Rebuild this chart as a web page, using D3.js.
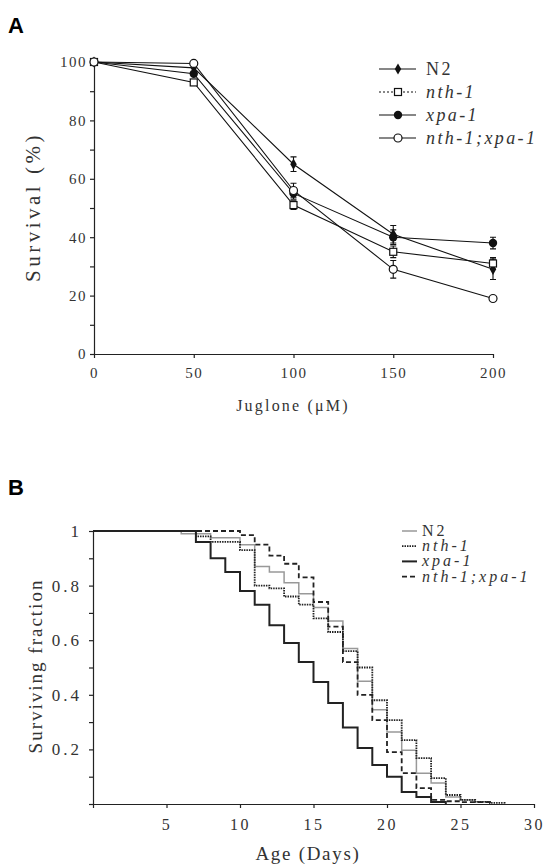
<!DOCTYPE html>
<html>
<head>
<meta charset="utf-8">
<script src="https://cdn.jsdelivr.net/npm/d3@7"></script>
<style>
  body { margin: 0; background: #fff; }
  svg { display: block; }
  .serif, .tick text { font-family: "Liberation Serif", "Times New Roman", "DejaVu Serif", serif; fill: #333; }
  .domain, .tick line { stroke: #222; stroke-width: 1.2; }
</style>
</head>
<body>
<div id="chart"></div>
<script>
// panel A: juglone survival
const doses = [0, 50, 100, 150, 200];
const survN2 = [100, 98, 65, 41, 29];
const errN2 = [0, 0, 2.5, 3, 3.5];
const survNth1 = [100, 93, 51, 35, 31];
const errNth1 = [0, 0, 1.5, 2, 2];
const survXpa1 = [100, 96, 55, 40, 38];
const errXpa1 = [0, 0, 2, 2.5, 2];
const survDouble = [100, 99.5, 56, 29, 19];
const errDouble = [0, 0, 2.5, 3, 1];
const seriesA = ['N2', 'nth-1', 'xpa-1', 'nth-1;xpa-1'];

// panel B: lifespan (Kaplan-Meier steps)
const daysN2 = [0, 6, 8, 10, 11, 12, 13, 14, 15, 16, 17, 18, 19, 20, 21, 22, 23, 24, 25, 26, 27];
const fracN2 = [1, 0.99, 0.975, 0.95, 0.87, 0.85, 0.81, 0.77, 0.72, 0.67, 0.57, 0.45, 0.345, 0.264, 0.197, 0.113, 0.077, 0.026, 0.015, 0.008, 0];
const daysNth1 = [0, 7, 8, 10, 11, 12, 13, 14, 15, 16, 17, 18, 19, 20, 21, 22, 23, 24, 25, 26, 27, 28];
const fracNth1 = [1, 0.98, 0.96, 0.93, 0.80, 0.79, 0.76, 0.73, 0.68, 0.63, 0.56, 0.50, 0.38, 0.307, 0.234, 0.168, 0.095, 0.033, 0.015, 0.008, 0.004, 0];
const daysXpa1 = [0, 7, 8, 9, 10, 11, 12, 13, 14, 15, 16, 17, 18, 19, 20, 21, 22, 23, 24];
const fracXpa1 = [1, 0.96, 0.90, 0.85, 0.78, 0.73, 0.655, 0.59, 0.52, 0.447, 0.37, 0.28, 0.205, 0.143, 0.10, 0.044, 0.026, 0.007, 0];
const daysDouble = [0, 10, 11, 12, 13, 14, 15, 16, 17, 18, 19, 20, 21, 22, 23, 24, 25, 27];
const fracDouble = [1, 0.985, 0.95, 0.91, 0.88, 0.83, 0.74, 0.65, 0.52, 0.40, 0.307, 0.19, 0.113, 0.058, 0.015, 0.01, 0.007, 0];
const seriesB = ['N2', 'nth-1', 'xpa-1', 'nth-1;xpa-1'];

const W = 543, H = 865;
const svg = d3.select('#chart').append('svg')
  .attr('width', W).attr('height', H);

// panel letters
svg.append('text').attr('x', 8).attr('y', 33).text('A')
  .style('font-family', '"Liberation Sans", Arial, sans-serif')
  .style('font-weight', 'bold').style('font-size', '22px');
svg.append('text').attr('x', 8).attr('y', 495).text('B')
  .style('font-family', '"Liberation Sans", Arial, sans-serif')
  .style('font-weight', 'bold').style('font-size', '22px');

// ---------- panel A ----------
var xA = d3.scaleLinear().domain([0, 200]).range([94, 493]);
var yA = d3.scaleLinear().domain([0, 100]).range([354, 62]);

var gA = svg.append('g');

gA.append('g')
  .attr('transform', 'translate(0,' + yA(0) + ')')
  .call(d3.axisBottom(xA).tickValues([0, 50, 100, 150, 200]).tickSize(4).tickSizeOuter(0).tickPadding(9))
  .selectAll('text')
    .style('font-size', '15px').style('letter-spacing', '1.5px');

gA.append('g')
  .attr('transform', 'translate(' + xA(0) + ',0)')
  .call(d3.axisLeft(yA).tickValues([0, 20, 40, 60, 80, 100]).tickSize(4).tickSizeOuter(0).tickPadding(3))
  .selectAll('text')
    .style('font-size', '15px').style('letter-spacing', '1.5px');

gA.append('g')
  .attr('transform', 'translate(' + xA(0) + ',0)')
  .call(d3.axisLeft(yA).tickValues([10, 30, 50, 70, 90]).tickSize(4).tickFormat(''))
  .call(g => g.select('.domain').remove());

gA.append('text').attr('class', 'serif')
  .attr('transform', 'translate(40,' + 207 + ') rotate(-90)')
  .attr('text-anchor', 'middle')
  .style('font-size', '21px').style('letter-spacing', '3.5px')
  .text('Survival (%)');

gA.append('text').attr('class', 'serif')
  .attr('x', 293).attr('y', 411)
  .attr('text-anchor', 'middle')
  .style('font-size', '16px').style('letter-spacing', '2.2px')
  .text('Juglone (\u03bcM)');

var dataA = [
  { name: 'N2', vals: survN2, err: errN2, marker: 'diamond' },
  { name: 'nth-1', vals: survNth1, err: errNth1, marker: 'square' },
  { name: 'xpa-1', vals: survXpa1, err: errXpa1, marker: 'dot' },
  { name: 'nth-1;xpa-1', vals: survDouble, err: errDouble, marker: 'circle' }
];

var lineA = d3.line()
  .x(function(d) { return xA(d[0]) })
  .y(function(d) { return yA(d[1]) });

dataA.forEach(function(s) {
  var pts = doses.map(function(x, i) { return [x, s.vals[i], s.err[i]] });
  gA.append('path')
    .datum(pts)
    .attr('d', lineA)
    .attr('fill', 'none')
    .attr('stroke', '#111')
    .attr('stroke-width', 1.1);
  // error bars
  pts.filter(d => d[2] > 0).forEach(function(d) {
    var cx = xA(d[0]);
    gA.append('path')
      .attr('d', 'M' + cx + ',' + yA(d[1] - d[2]) + 'V' + yA(d[1] + d[2]) +
        'M' + (cx - 3) + ',' + yA(d[1] - d[2]) + 'h6M' + (cx - 3) + ',' + yA(d[1] + d[2]) + 'h6')
      .attr('stroke', '#111').attr('stroke-width', 1.1).attr('fill', 'none');
  });
});

function drawMarker(g, type, cx, cy) {
  if (type === 'diamond') {
    g.append('path').attr('d', d3.symbol(d3.symbolDiamond, 36)())
      .attr('transform', 'translate(' + cx + ',' + cy + ')').attr('fill', '#111');
  } else if (type === 'square') {
    g.append('rect').attr('x', cx - 3.5).attr('y', cy - 3.5).attr('width', 7).attr('height', 7)
      .attr('fill', '#fff').attr('stroke', '#111').attr('stroke-width', 1.2);
  } else if (type === 'dot') {
    g.append('circle').attr('cx', cx).attr('cy', cy).attr('r', 4.2).attr('fill', '#111');
  } else {
    g.append('circle').attr('cx', cx).attr('cy', cy).attr('r', 4).attr('fill', '#fff')
      .attr('stroke', '#111').attr('stroke-width', 1.2);
  }
}

// open markers last so they sit on top
[2, 0, 1, 3].forEach(function(k) {
  var s = dataA[k];
  doses.forEach(function(x, i) { drawMarker(gA, s.marker, xA(x), yA(s.vals[i])) });
});

// legend A
var legA = svg.append('g');
dataA.forEach(function(s, i) {
  var y = 69 + i * 23;
  legA.append('line').attr('x1', 379).attr('x2', 416).attr('y1', y).attr('y2', y)
    .attr('stroke', '#111').attr('stroke-width', 1.2)
    .attr('stroke-dasharray', s.name === 'nth-1' ? '2,2' : null);
  drawMarker(legA, s.marker, 398, y);
  legA.append('text').attr('class', 'serif').attr('x', 426).attr('y', y + 6)
    .style('font-size', '18px')
    .style('font-style', s.name === 'N2' ? 'normal' : 'italic')
    .style('letter-spacing', '2.4px')
    .text(s.name);
});

// ---------- panel B ----------
var xB = d3.scaleLinear().domain([0, 30]).range([93, 534]);
var yB = d3.scaleLinear().domain([0, 1]).range([804, 531]);

var gB = svg.append('g');

gB.append('g')
  .attr('transform', 'translate(0,' + yB(0) + ')')
  .call(d3.axisBottom(xB).tickValues([0, 5, 10, 15, 20, 25, 30]).tickSize(4).tickSizeOuter(0).tickPadding(11)
    .tickFormat(d => d === 0 ? '' : d))
  .selectAll('text')
    .style('font-size', '16px').style('letter-spacing', '2.5px');

gB.append('g')
  .attr('transform', 'translate(' + xB(0) + ',0)')
  .call(d3.axisLeft(yB).tickValues([0, 0.1, 0.2, 0.3, 0.4, 0.5, 0.6, 0.7, 0.8, 0.9, 1]).tickSize(4).tickSizeOuter(0).tickPadding(7)
    .tickFormat(d => (Math.round(d * 10) % 2 === 0 && d > 0) ? (d === 1 ? '1' : d3.format('.1f')(d)) : ''))
  .selectAll('text')
    .style('font-size', '17px').style('letter-spacing', '3px');

gB.append('text').attr('class', 'serif')
  .attr('transform', 'translate(42,' + 666 + ') rotate(-90)')
  .attr('text-anchor', 'middle')
  .style('font-size', '19px').style('letter-spacing', '2px')
  .text('Surviving fraction');

gB.append('text').attr('class', 'serif')
  .attr('x', 308).attr('y', 860)
  .attr('text-anchor', 'middle')
  .style('font-size', '19px').style('letter-spacing', '1.7px')
  .text('Age (Days)');

var dataB = [
  { name: 'N2', days: daysN2, frac: fracN2, color: '#999', width: 1.5, dash: null },
  { name: 'nth-1', days: daysNth1, frac: fracNth1, color: '#222', width: 1.8, dash: '1.5,1' },
  { name: 'xpa-1', days: daysXpa1, frac: fracXpa1, color: '#222', width: 2, dash: null },
  { name: 'nth-1;xpa-1', days: daysDouble, frac: fracDouble, color: '#222', width: 1.8, dash: '5,3' }
];

var lineB = d3.line()
  .curve(d3.curveStepAfter)
  .x(function(d) { return xB(d[0]) })
  .y(function(d) { return yB(d[1]) });

dataB.forEach(function(s) {
  gB.append('path')
    .datum(s.days.map(function(d, i) { return [d, s.frac[i]] }))
    .attr('d', lineB)
    .attr('fill', 'none')
    .attr('stroke', s.color)
    .attr('stroke-width', s.width)
    .attr('stroke-dasharray', s.dash);
});

// legend B
var legB = svg.append('g');
dataB.forEach(function(s, i) {
  var y = 531 + i * 15.2;
  legB.append('line').attr('x1', 402).attr('x2', 417).attr('y1', y).attr('y2', y)
    .attr('stroke', s.color).attr('stroke-width', s.width)
    .attr('stroke-dasharray', s.dash);
  legB.append('text').attr('class', 'serif').attr('x', 422).attr('y', y + 5)
    .style('font-size', '16px')
    .style('font-style', s.name === 'N2' ? 'normal' : 'italic')
    .style('letter-spacing', '3px')
    .text(s.name);
});
</script>
</body>
</html>
